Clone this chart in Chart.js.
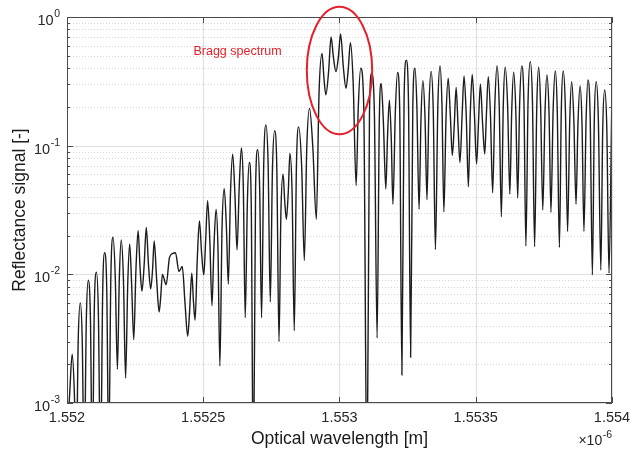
<!DOCTYPE html>
<html>
<head>
<meta charset="utf-8">
<script src="https://cdn.jsdelivr.net/npm/chart.js@4.4.0/dist/chart.umd.min.js"></script>
<style>
    html, body { margin: 0; padding: 0; background: #fff; }
    #wrap { width: 633px; height: 450px; }
</style>
</head>
<body>
<div id="wrap"><canvas id="myChart" width="633" height="450"></canvas></div>
<script>
// wavelength in units of 1e-6 m (shown with the x10^-6 multiplier)
// fringe peaks and dips
var wavelength = [
    1.552000, 1.552019, 1.552034, 1.552049, 1.552063, 1.552078, 1.552093, 1.552108, 1.552123, 1.552138,
    1.552153, 1.552169, 1.552185, 1.552199, 1.552215, 1.552230, 1.552245, 1.552261, 1.552275, 1.552291,
    1.552307, 1.552320, 1.552338, 1.552350, 1.552364, 1.552376, 1.552387, 1.552398, 1.552411, 1.552423,
    1.552443, 1.552458, 1.552470, 1.552486, 1.552502, 1.552516, 1.552532, 1.552547, 1.552561, 1.552577,
    1.552592, 1.552608, 1.552624, 1.552640, 1.552654, 1.552669, 1.552684, 1.552700, 1.552714, 1.552730,
    1.552746, 1.552762, 1.552778, 1.552793, 1.552805, 1.552818, 1.552834, 1.552850, 1.552871, 1.552890,
    1.552915, 1.552936, 1.552950, 1.552969, 1.552987, 1.553004, 1.553024, 1.553040, 1.553061, 1.553078,
    1.553101, 1.553118, 1.553138, 1.553153, 1.553170, 1.553183, 1.553196, 1.553213, 1.553229, 1.553245,
    1.553261, 1.553277, 1.553292, 1.553306, 1.553321, 1.553336, 1.553352, 1.553369, 1.553383, 1.553399,
    1.553414, 1.553428, 1.553442, 1.553457, 1.553473, 1.553487, 1.553503, 1.553517, 1.553533, 1.553546,
    1.553562, 1.553578, 1.553594, 1.553608, 1.553625, 1.553639, 1.553654, 1.553669, 1.553684, 1.553700,
    1.553716, 1.553731, 1.553746, 1.553761, 1.553776, 1.553792, 1.553807, 1.553821, 1.553837, 1.553852,
    1.553868, 1.553883, 1.553897, 1.553912, 1.553928, 1.553942, 1.553959, 1.553973, 1.553989, 1.554000
];
var reflectance = [
    5e-4, 2.4e-3, 3e-4, 6.0e-3, 3e-4, 9.0e-3, 3e-4, 1.04e-2, 3e-4, 1.47e-2, 4e-4,
    1.94e-2, 1.83e-3, 1.85e-2, 1.56e-3, 1.72e-2, 3.1e-3, 2.18e-2, 7.4e-3, 2.31e-2, 7.7e-3, 1.82e-2, 5.1e-3, 1.0e-2, 8.3e-3,
    1.35e-2, 1.45e-2, 1.47e-2, 1.05e-2, 1.15e-2,
    3.3e-3,
    1.02e-2, 4.4e-3, 2.6e-2, 9.9e-3, 3.73e-2, 5.7e-3, 3.2e-2, 1.94e-3, 4.63e-2, 8.4e-3, 8.6e-2, 1.55e-2, 9.6e-2, 4.6e-3,
    7.4e-2, 2e-4, 9.3e-2, 4.6e-3, 0.145, 6.1e-3, 0.131, 3.0e-3, 6.0e-2, 2.68e-2, 8.7e-2, 3.65e-3, 0.14, 1.28e-2, 0.195, 2.68e-2,
    0.52, 0.248, 0.70, 0.376, 0.74, 0.279, 0.63, 4.9e-2, 0.40, 2e-4, 0.365, 3.2e-3, 0.305, 4.6e-2, 0.226, 3.5e-2, 0.37, 1.65e-3,
    0.46, 2.27e-3, 0.40, 3.2e-2, 0.32, 3.8e-2, 0.378, 1.56e-2, 0.416, 3.05e-2, 0.334, 8.4e-2, 0.284, 7.4e-2, 0.348, 4.8e-2,
    0.358, 7.2e-2, 0.30, 8.6e-2, 0.344, 4.3e-2, 0.416, 2.8e-2, 0.407, 4.2e-2, 0.372, 3.9e-2, 0.416, 1.66e-2, 0.45, 1.64e-2,
    0.407, 3.16e-2, 0.354, 3.03e-2, 0.38, 1.62e-2, 0.38, 2.15e-2, 0.314, 3.5e-2, 0.291, 2.15e-2, 0.324, 9.9e-3, 0.314, 1.08e-2,
    0.271, 1.02e-2, 0.284
];

// points on the flanks of each fringe, halfway between dip and peak
var flankWavelength = [
    1.552010, 1.552027, 1.552041, 1.552056, 1.552071, 1.552086, 1.552100, 1.552115, 1.552131, 1.552146,
    1.552161, 1.552177, 1.552192, 1.552207, 1.552223, 1.552237, 1.552253, 1.552268, 1.552283, 1.552299,
    1.552314, 1.552329, 1.552344, 1.552433, 1.552450, 1.552464, 1.552478, 1.552494, 1.552509, 1.552524,
    1.552539, 1.552554, 1.552569, 1.552585, 1.552600, 1.552616, 1.552632, 1.552647, 1.552662, 1.552676,
    1.552692, 1.552707, 1.552722, 1.552738, 1.552754, 1.552770, 1.552785, 1.552799, 1.552812, 1.552826,
    1.552842, 1.552861, 1.552880, 1.552902, 1.552925, 1.552943, 1.552960, 1.552978, 1.552996, 1.553014,
    1.553032, 1.553050, 1.553069, 1.553089, 1.553110, 1.553128, 1.553146, 1.553161, 1.553176, 1.553190,
    1.553205, 1.553221, 1.553237, 1.553253, 1.553269, 1.553284, 1.553299, 1.553314, 1.553328, 1.553344,
    1.553361, 1.553376, 1.553391, 1.553407, 1.553421, 1.553435, 1.553450, 1.553465, 1.553480, 1.553495,
    1.553510, 1.553525, 1.553539, 1.553554, 1.553570, 1.553586, 1.553601, 1.553617, 1.553632, 1.553647,
    1.553661, 1.553677, 1.553692, 1.553708, 1.553724, 1.553738, 1.553754, 1.553769, 1.553784, 1.553799,
    1.553814, 1.553829, 1.553845, 1.553860, 1.553875, 1.553890, 1.553905, 1.553920, 1.553935, 1.553950,
    1.553966, 1.553981
];
var flankReflectance = [
    1.2e-3, 1.2e-3, 3.0e-3, 3.0e-3, 4.5e-3, 4.5e-3, 5.2e-3, 5.2e-3, 7.4e-3, 7.4e-3,
    9.7e-3, 9.7e-3, 9.3e-3, 9.3e-3, 8.6e-3, 8.6e-3, 1.09e-2, 1.14e-2, 1.17e-2, 1.19e-2,
    1.09e-2, 9.1e-3, 6.7e-3, 6.0e-3, 5.2e-3, 6.2e-3, 1.3e-2, 1.46e-2, 1.87e-2, 1.87e-2,
    1.6e-2, 1.6e-2, 2.32e-2, 2.32e-2, 4.3e-2, 4.3e-2, 4.8e-2, 4.8e-2, 3.7e-2, 3.7e-2,
    4.65e-2, 4.65e-2, 7.3e-2, 7.3e-2, 6.6e-2, 6.6e-2, 3.0e-2, 3.7e-2, 4.36e-2, 4.36e-2,
    7.0e-2, 7.0e-2, 9.8e-2, 9.8e-2, 0.26, 0.333, 0.376, 0.48, 0.49, 0.41,
    0.39, 0.315, 0.2, 0.2, 0.18, 0.18, 0.153, 0.153, 0.113, 0.113,
    0.185, 0.185, 0.23, 0.23, 0.2, 0.2, 0.16, 0.16, 0.189, 0.189,
    0.208, 0.208, 0.167, 0.167, 0.142, 0.142, 0.174, 0.174, 0.179, 0.179,
    0.15, 0.15, 0.172, 0.172, 0.208, 0.208, 0.2035, 0.2035, 0.186, 0.186,
    0.208, 0.208, 0.225, 0.225, 0.2035, 0.2035, 0.177, 0.177, 0.19, 0.19,
    0.19, 0.19, 0.157, 0.157, 0.1455, 0.1455, 0.162, 0.162, 0.157, 0.157,
    0.1355, 0.1355
];

var xTicks = [1.552, 1.5525, 1.553, 1.5535, 1.554];
var xTickLabels = ['1.552', '1.5525', '1.553', '1.5535', '1.554'];
var yDecades = [-3, -2, -1, 0];

// region circled around the Bragg peak
var braggX = [1.55288, 1.55312];
var braggY = [0.1225, 1.2];
var braggLabel = 'Bragg spectrum';
var braggLabelPos = { x: 1.552626, y: 0.535 };

var FONT = '"Liberation Sans", Arial, Helvetica, sans-serif';

function seg(ctx, x1, y1, x2, y2) {
    ctx.beginPath();
    ctx.moveTo(x1, y1);
    ctx.lineTo(x2, y2);
    ctx.stroke();
}

var axesPlugin = {
    id: 'matlabAxes',
    beforeDatasetsDraw: function (chart) {
        var ctx = chart.ctx, a = chart.chartArea;
        var xs = chart.scales.x, ys = chart.scales.y;
        ctx.save();
        ctx.lineWidth = 1;

        // minor grid (dotted)
        ctx.strokeStyle = '#d6d6d6';
        ctx.setLineDash([1, 2]);
        yDecades.forEach(function (e) {
            for (var m = 2; m <= 9; m++) {
                var v = m * Math.pow(10, e);
                if (v >= ys.max) return;
                var py = Math.round(ys.getPixelForValue(v)) + 0.5;
                seg(ctx, a.left, py, a.right, py);
            }
        });

        // major grid
        ctx.setLineDash([]);
        ctx.strokeStyle = '#dedede';
        yDecades.forEach(function (e) {
            var py = Math.round(ys.getPixelForValue(Math.pow(10, e))) + 0.5;
            seg(ctx, a.left, py, a.right, py);
        });
        xTicks.forEach(function (t) {
            var px = Math.round(xs.getPixelForValue(t)) + 0.5;
            seg(ctx, px, a.top, px, a.bottom);
        });
        ctx.restore();
    },
    afterDatasetsDraw: function (chart) {
        var ctx = chart.ctx, a = chart.chartArea;
        var xs = chart.scales.x, ys = chart.scales.y;
        ctx.save();

        // axes box
        ctx.strokeStyle = '#4a4a4a';
        ctx.lineWidth = 1;
        ctx.strokeRect(a.left + 0.5, a.top + 0.5, a.right - a.left - 1, a.bottom - a.top - 1);

        // tick marks pointing inwards
        yDecades.forEach(function (e) {
            for (var m = 1; m <= 9; m++) {
                var v = m * Math.pow(10, e);
                if (v > ys.max) return;
                var py = Math.round(ys.getPixelForValue(v)) + 0.5;
                var len = m === 1 ? 6 : 3;
                seg(ctx, a.left, py, a.left + len, py);
                seg(ctx, a.right - len, py, a.right, py);
            }
        });
        xTicks.forEach(function (t) {
            var px = Math.round(xs.getPixelForValue(t)) + 0.5;
            seg(ctx, px, a.bottom, px, a.bottom - 6);
            seg(ctx, px, a.top, px, a.top + 6);
        });

        // x tick labels
        ctx.fillStyle = '#262626';
        ctx.font = '14.5px ' + FONT;
        ctx.textAlign = 'center';
        ctx.textBaseline = 'middle';
        xTicks.forEach(function (t, i) {
            ctx.fillText(xTickLabels[i], xs.getPixelForValue(t), a.bottom + 15);
        });

        // y tick labels 10^n
        yDecades.forEach(function (e) {
            var py = ys.getPixelForValue(Math.pow(10, e));
            var sup = String(e);
            ctx.font = '10.5px ' + FONT;
            ctx.textAlign = 'right';
            ctx.textBaseline = 'middle';
            var supRight = a.left - 7;
            ctx.fillText(sup, supRight, py - 3);
            var sw = ctx.measureText(sup).width;
            ctx.font = '14.5px ' + FONT;
            ctx.fillText('10', supRight - sw - 0.5, py + 4);
        });

        // exponent multiplier
        ctx.font = '10.5px ' + FONT;
        ctx.textAlign = 'right';
        ctx.fillText('-6', a.right, a.bottom + 32);
        var ew = ctx.measureText('-6').width;
        ctx.font = '14px ' + FONT;
        ctx.fillText('\u00d710', a.right - ew - 0.5, a.bottom + 38);

        // axis titles
        ctx.fillStyle = '#1a1a1a';
        ctx.font = '17.5px ' + FONT;
        ctx.textAlign = 'center';
        ctx.textBaseline = 'alphabetic';
        ctx.fillText('Optical wavelength [m]', (a.left + a.right) / 2, a.bottom + 41);
        ctx.save();
        ctx.translate(24.5, (a.top + a.bottom) / 2);
        ctx.rotate(-Math.PI / 2);
        ctx.fillText('Reflectance signal [-]', 0, 0);
        ctx.restore();

        // Bragg annotation
        var x1 = xs.getPixelForValue(braggX[0]), x2 = xs.getPixelForValue(braggX[1]);
        var y1 = ys.getPixelForValue(braggY[1]), y2 = ys.getPixelForValue(braggY[0]);
        ctx.strokeStyle = '#e5202a';
        ctx.lineWidth = 2;
        ctx.beginPath();
        ctx.ellipse((x1 + x2) / 2, (y1 + y2) / 2, (x2 - x1) / 2, (y2 - y1) / 2, 0, 0, Math.PI * 2);
        ctx.stroke();
        ctx.fillStyle = '#e5202a';
        ctx.font = '12.5px ' + FONT;
        ctx.textAlign = 'center';
        ctx.textBaseline = 'middle';
        ctx.fillText(braggLabel, xs.getPixelForValue(braggLabelPos.x), ys.getPixelForValue(braggLabelPos.y));

        ctx.restore();
    }
};

// merge extrema and flank points into one trace ordered by wavelength
var points = wavelength.map(function (w, i) {
    return { x: w, y: reflectance[i] };
}).concat(flankWavelength.map(function (w, i) {
    return { x: w, y: flankReflectance[i] };
})).sort(function (p, q) { return p.x - q.x; });

var ctx = document.getElementById('myChart').getContext('2d');
var myChart = new Chart(ctx, {
    type: 'line',
    data: {
        datasets: [{
            data: points,
            borderColor: '#1c1c1c',
            borderWidth: 1.4,
            pointRadius: 0,
            fill: false,
            cubicInterpolationMode: 'monotone'
        }]
    },
    options: {
        responsive: false,
        animation: false,
        events: [],
        layout: { padding: { left: 67, right: 21, top: 17, bottom: 47 } },
        plugins: {
            legend: { display: false },
            tooltip: { enabled: false }
        },
        scales: {
            x: { type: 'linear', min: 1.552, max: 1.554, display: false },
            y: { type: 'logarithmic', min: 1e-3, max: 1, display: false }
        }
    },
    plugins: [axesPlugin]
});
</script>
</body>
</html>
